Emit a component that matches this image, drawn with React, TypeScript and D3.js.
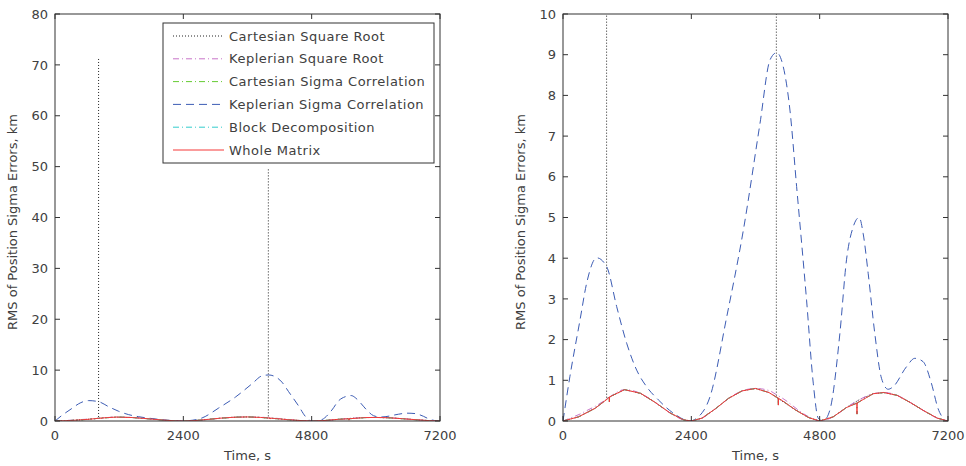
import React from 'react';
import * as d3 from 'd3';

type Pt = [number, number];

// time (s) and RMS position sigma error (km)
const xTicks = [0, 2400, 4800, 7200];
const leftYTicks = [0, 10, 20, 30, 40, 50, 60, 70, 80];
const rightYTicks = [0, 1, 2, 3, 4, 5, 6, 7, 8, 9, 10];

const wholeMatrix: Pt[] = [
  [0, 0], [287, 0.1], [598, 0.31], [848, 0.56], [867, 0.59], [867, 0.47], [867, 0.59],
  [1150, 0.77], [1450, 0.68], [1720, 0.46], [2000, 0.2], [2250, 0.03], [2400, 0],
  [2600, 0.07], [2850, 0.3], [3100, 0.56], [3350, 0.74], [3600, 0.8], [3850, 0.7],
  [4027, 0.56], [4027, 0.39], [4027, 0.56], [4100, 0.5], [4350, 0.27], [4600, 0.08], [4800, 0],
  [5050, 0.1], [5300, 0.33], [5498, 0.44], [5498, 0.17], [5498, 0.44], [5800, 0.67],
  [6000, 0.7], [6250, 0.63], [6500, 0.45], [6750, 0.25], [7000, 0.07], [7200, 0],
];

const keplerianSquareRoot: Pt[] = [
  [0, 0], [150, 0.08], [300, 0.16], [450, 0.26], [600, 0.36], [750, 0.48], [850, 0.57],
  [1150, 0.77], [1450, 0.68], [1720, 0.46], [2000, 0.2], [2250, 0.03], [2400, 0],
  [2600, 0.07], [2850, 0.3], [3100, 0.56], [3350, 0.74], [3600, 0.8], [3850, 0.75],
  [4000, 0.64], [4150, 0.52], [4300, 0.37], [4450, 0.22], [4600, 0.1], [4700, 0.04], [4800, 0],
  [5050, 0.1], [5300, 0.33], [5550, 0.53], [5800, 0.67], [6000, 0.7], [6250, 0.63],
  [6500, 0.45], [6750, 0.25], [7000, 0.07], [7200, 0],
];

// NaN marks a break: the spikes shoot up and the trace restarts below
const cartesianSquareRoot: Pt[] = [
  [0, 0], [287, 0.1], [598, 0.31], [815, 0.53], [815, 71.5], [815, NaN], [830, 0.56],
  [1150, 0.77], [1450, 0.68], [1720, 0.46], [2000, 0.2], [2250, 0.03], [2400, 0],
  [2600, 0.07], [2850, 0.3], [3100, 0.56], [3350, 0.74], [3600, 0.8], [3850, 0.7],
  [3990, 0.58], [3990, 49.7], [3990, NaN], [4005, 0.57], [4350, 0.27], [4600, 0.08], [4800, 0],
  [5050, 0.1], [5300, 0.33], [5550, 0.53], [5800, 0.67], [6000, 0.7], [6250, 0.63],
  [6500, 0.45], [6750, 0.25], [7000, 0.07], [7200, 0],
];

// these two sit underneath the whole-matrix curve in the figure
const cartesianSigmaCorrelation: Pt[] = wholeMatrix;
const blockDecomposition: Pt[] = wholeMatrix;

const keplerianSigmaCorrelation: Pt[] = [
  [0, 0], [130, 1.1], [318, 2.48], [443, 3.39], [630, 4.01], [817, 3.79], [1004, 2.81],
  [1191, 1.91], [1378, 1.25], [1565, 0.84], [1783, 0.52], [2066, 0.19], [2377, 0],
  [2501, 0.07], [2750, 0.6], [3062, 2.56], [3373, 4.69], [3684, 7.31], [3871, 8.87],
  [3995, 9.05], [4120, 8.7], [4244, 7.64], [4369, 5.76], [4555, 2.97], [4680, 0.93],
  [4773, 0.07], [4866, 0], [4991, 0.27], [5178, 2.15], [5302, 3.96], [5427, 4.77],
  [5539, 5.0], [5614, 4.6], [5707, 3.63], [5831, 2.15], [5956, 1.05], [6080, 0.78],
  [6173, 0.84], [6422, 1.33], [6578, 1.54], [6733, 1.46], [6889, 0.93], [7013, 0.31], [7138, 0.02],
];

const series = [
  { name: 'Cartesian Square Root', data: cartesianSquareRoot, color: '#222', dash: '1,2', curve: d3.curveLinear },
  { name: 'Keplerian Square Root', data: keplerianSquareRoot, color: '#c874c8', dash: '6,3,1,3', curve: d3.curveMonotoneX },
  { name: 'Cartesian Sigma Correlation', data: cartesianSigmaCorrelation, color: '#66cc33', dash: '6,3,1,3', curve: d3.curveLinear },
  { name: 'Keplerian Sigma Correlation', data: keplerianSigmaCorrelation, color: '#3c5cb4', dash: '8,5', curve: d3.curveMonotoneX },
  { name: 'Block Decomposition', data: blockDecomposition, color: '#33cccc', dash: '6,3,1,3', curve: d3.curveLinear },
  { name: 'Whole Matrix', data: wholeMatrix, color: '#f53838', dash: null, curve: d3.curveLinear },
];

const FONT = '"DejaVu Sans", sans-serif';
const TXT = '#404040';

function Panel({ id, left, right, yMax, yTicks, legend }: {
  id: string; left: number; right: number; yMax: number; yTicks: number[]; legend?: boolean;
}) {
  const top = 14, bottom = 421;
  const x = d3.scaleLinear().domain([0, 7200]).range([left, right]);
  const y = d3.scaleLinear().domain([0, yMax]).range([bottom, top]);
  const tick = 5;

  return (
    <g>
      <defs>
        <clipPath id={id}>
          <rect x={left} y={top} width={right - left} height={bottom - top} />
        </clipPath>
      </defs>
      <rect x={left} y={top} width={right - left} height={bottom - top} fill="#fff" />
      <g clipPath={`url(#${id})`}>
        {series.map(s => {
          const line = d3.line<Pt>()
            .defined(d => !isNaN(d[1]))
            .x(d => x(d[0]))
            .y(d => y(d[1]))
            .curve(s.curve);
          return (
            <path key={s.name} d={line(s.data) || ''} fill="none" stroke={s.color}
              strokeWidth={1} strokeDasharray={s.dash || undefined} />
          );
        })}
      </g>
      {/* frame and inward ticks */}
      <rect x={left} y={top} width={right - left} height={bottom - top} fill="none" stroke="#333" strokeWidth={1} />
      {xTicks.map(t => (
        <g key={'x' + t}>
          <line x1={x(t)} x2={x(t)} y1={bottom} y2={bottom - tick} stroke="#333" />
          <line x1={x(t)} x2={x(t)} y1={top} y2={top + tick} stroke="#333" />
          <text x={x(t)} y={440} textAnchor="middle" fontSize={13} fontFamily={FONT} fill={TXT}>{t}</text>
        </g>
      ))}
      {yTicks.map(t => (
        <g key={'y' + t}>
          <line x1={left} x2={left + tick} y1={y(t)} y2={y(t)} stroke="#333" />
          <line x1={right} x2={right - tick} y1={y(t)} y2={y(t)} stroke="#333" />
          <text x={left - 7} y={y(t)} dy="0.36em" textAnchor="end" fontSize={13} fontFamily={FONT} fill={TXT}>{t}</text>
        </g>
      ))}
      <text x={(left + right) / 2} y={460} textAnchor="middle" fontSize={13} fontFamily={FONT} fill={TXT}>Time, s</text>
      <text transform={`translate(${left - 38},222) rotate(-90)`} textAnchor="middle" fontSize={13}
        fontFamily={FONT} fill={TXT}>RMS of Position Sigma Errors, km</text>
      {legend && (
        <g>
          <rect x={163} y={23} width={271} height={140} fill="#fff" stroke="#333" />
          {series.map((s, i) => {
            const cy = 36 + i * 22.8;
            return (
              <g key={s.name}>
                <line x1={173} x2={224} y1={cy} y2={cy} stroke={s.color} strokeWidth={1}
                  strokeDasharray={s.dash || undefined} />
                <text x={229} y={cy} dy="0.36em" fontSize={13} fontFamily={FONT} fill={TXT}
                  letterSpacing={0.5}>{s.name}</text>
              </g>
            );
          })}
        </g>
      )}
    </g>
  );
}

export default function App() {
  return (
    <svg width={966} height={466} style={{ display: 'block', position: 'absolute', left: 0, top: 0 }}>
      <rect width={966} height={466} fill="#fff" />
      <Panel id="clipL" left={55} right={440} yMax={80} yTicks={leftYTicks} legend />
      <Panel id="clipR" left={563} right={948} yMax={10} yTicks={rightYTicks} />
    </svg>
  );
}
